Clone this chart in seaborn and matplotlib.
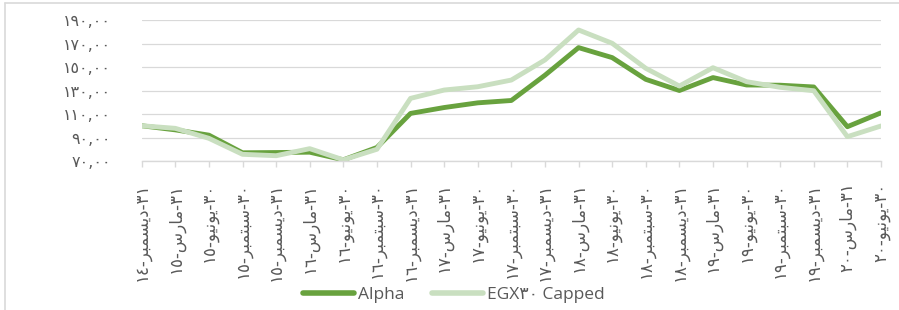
import numpy as np
import pandas as pd
import matplotlib
matplotlib.use("Agg")
import matplotlib.pyplot as plt
from matplotlib.lines import Line2D
import seaborn as sns

# ---------------- data ----------------
days = ["٣١", "٣١", "٣٠", "٣٠", "٣١", "٣١", "٣٠", "٣٠", "٣١", "٣١", "٣٠", "٣٠",
        "٣١", "٣١", "٣٠", "٣٠", "٣١", "٣١", "٣٠", "٣٠", "٣١", "٣١", "٣٠"]
months = ["ديسمبر", "مارس", "يونيو", "سبتمبر", "ديسمبر", "مارس", "يونيو", "سبتمبر",
          "ديسمبر", "مارس", "يونيو", "سبتمبر", "ديسمبر", "مارس", "يونيو", "سبتمبر",
          "ديسمبر", "مارس", "يونيو", "سبتمبر", "ديسمبر", "مارس", "يونيو"]
years = ["١٤", "١٥", "١٥", "١٥", "١٥", "١٦", "١٦", "١٦", "١٦", "١٧", "١٧", "١٧",
         "١٧", "١٨", "١٨", "١٨", "١٨", "١٩", "١٩", "١٩", "١٩", "٢٠", "٢٠"]

alpha = [100.0, 96.5, 92.0, 77.0, 77.2, 77.5, 71.0, 81.5, 110.5, 115.5, 119.5, 121.5,
         143.0, 166.5, 158.0, 139.5, 130.0, 141.0, 134.7, 134.5, 133.0, 99.2, 111.0]
egx30 = [100.0, 97.8, 89.3, 75.7, 74.5, 80.5, 71.0, 80.0, 123.3, 130.4, 133.2, 138.9,
         156.0, 181.5, 170.2, 148.9, 133.8, 149.4, 137.5, 132.7, 129.8, 90.7, 99.8]

series_names = ["Alpha", "EGX٣٠ Capped"]
y_ticks = [70, 90, 110, 130, 150, 170, 190]

# ---------------- arabic helpers (visual shaping for matplotlib) ----------------
FORMS = {  # isolated, final, initial, medial
    "ا": ("\uFE8D", "\uFE8E", None, None),
    "ب": ("\uFE8F", "\uFE90", "\uFE91", "\uFE92"),
    "ت": ("\uFE95", "\uFE96", "\uFE97", "\uFE98"),
    "د": ("\uFEA9", "\uFEAA", None, None),
    "ر": ("\uFEAD", "\uFEAE", None, None),
    "س": ("\uFEB1", "\uFEB2", "\uFEB3", "\uFEB4"),
    "م": ("\uFEE1", "\uFEE2", "\uFEE3", "\uFEE4"),
    "ن": ("\uFEE5", "\uFEE6", "\uFEE7", "\uFEE8"),
    "و": ("\uFEED", "\uFEEE", None, None),
    "ي": ("\uFEF1", "\uFEF2", "\uFEF3", "\uFEF4"),
}


def shape(word):
    out = []
    for i, ch in enumerate(word):
        iso, fin, ini, med = FORMS[ch]
        jp = i > 0 and FORMS[word[i - 1]][2] is not None
        jn = ini is not None and i < len(word) - 1
        if jp and jn:
            out.append(med)
        elif jp:
            out.append(fin)
        elif jn:
            out.append(ini)
        else:
            out.append(iso)
    return "".join(out)


def visual_label(d, m, y):
    # logical "d-m-y" in an RTL paragraph, laid out left-to-right
    return y + "-" + shape(m)[::-1] + "-" + d


AR_DIGITS = str.maketrans("0123456789", "٠١٢٣٤٥٦٧٨٩")

x_labels = [visual_label(d, m, y) for d, m, y in zip(days, months, years)]
y_labels = [f"{v:.2f}".replace(".", ",").translate(AR_DIGITS) for v in y_ticks]

n = len(alpha)
df = pd.DataFrame({
    "x": list(range(n)) * 2,
    "value": alpha + egx30,
    "series": [series_names[0]] * n + [series_names[1]] * n,
})

# ---------------- plot ----------------
sns.set_theme(style="white")
plt.rcParams["font.family"] = ["Open Sans", "DejaVu Sans"]

W, H = 899, 310
fig = plt.figure(figsize=(W / 100, H / 100), dpi=100)
ax = fig.add_axes([141.7 / W, 1 - 161 / H, (881 - 141.7) / W, (161 - 20) / H])

dark = "#68A23E"
light = "#C9DFC0"
sns.lineplot(data=df, x="x", y="value", hue="series", palette=[dark, light],
             linewidth=3.5, ax=ax, legend=False, sort=False)
for ln in ax.get_lines():
    ln.set_solid_capstyle("round")
    ln.set_solid_joinstyle("round")

ax.set_xlim(0, n - 1)
ax.set_ylim(70, 190)
ax.set_yticks(y_ticks)
ax.set_yticklabels(y_labels, color="#595959", fontsize=11.5,
                   family=["DejaVu Sans"])
ax.set_xticks(range(n))
ax.set_xticklabels(x_labels, rotation=90, color="#595959", fontsize=12,
                   family=["DejaVu Sans"])
ax.set_xlabel("")
ax.set_ylabel("")

ax.grid(axis="y", color="#D9D9D9", linewidth=0.9)
ax.grid(axis="x", visible=False)
for s in ["left", "right", "top"]:
    ax.spines[s].set_visible(False)
ax.spines["bottom"].set_color("#D9D9D9")
ax.spines["bottom"].set_linewidth(1.0)
ax.tick_params(axis="x", length=4.5, width=1.0, color="#D9D9D9", pad=11,
               direction="out", bottom=True)
ax.tick_params(axis="y", length=0, pad=22)
ax.set_axisbelow(True)

handles = [Line2D([], [], color=dark, lw=4, solid_capstyle="round"),
           Line2D([], [], color=light, lw=4, solid_capstyle="round")]
leg = fig.legend(handles, series_names, loc="center", bbox_to_anchor=(454 / W, 1 - 295 / H),
                 ncol=2, frameon=False, fontsize=12.5, handlelength=2.9,
                 handletextpad=0.25, columnspacing=1.6, borderaxespad=0)
for t in leg.get_texts():
    t.set_color("#595959")

# chart-area border (left and top edges visible in the crop)
fig.add_artist(Line2D([5 / W, 5 / W], [0, 1 - 3 / H], color="#D9D9D9", lw=1.2,
                      transform=fig.transFigure))
fig.add_artist(Line2D([5 / W, 1], [1 - 3 / H, 1 - 3 / H], color="#D9D9D9", lw=1.2,
                      transform=fig.transFigure))

fig.savefig("out.png", dpi=100)
